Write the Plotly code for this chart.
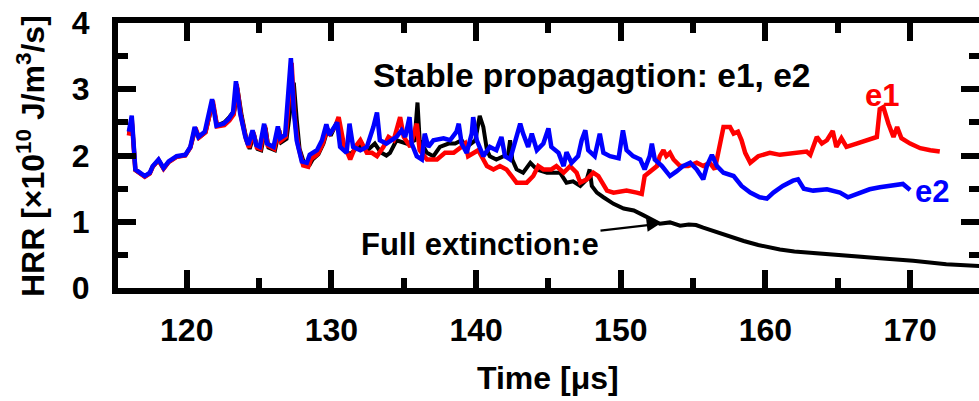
import plotly.graph_objects as go

# ---- data (Time in microseconds, HRR in 1e10 J/m^3/s) ----
e2_t = [116.0, 116.2, 116.45, 117.1, 117.45, 117.65, 118.05, 118.4, 118.75, 119.3, 119.9, 120.25,
        120.55, 120.8, 121.25, 121.75, 122.05, 122.55, 122.9, 123.2, 123.4, 123.7, 124.05, 124.25,
        124.55, 124.8, 125.05, 125.35, 125.55, 126.0, 126.3, 126.45, 126.8, 127.2, 127.4, 127.6,
        127.95, 128.3, 128.5, 129.0, 129.35, 129.65, 129.85, 130.15, 130.4, 130.6, 131.05, 131.25,
        131.5, 132.0, 132.45, 132.9, 133.15, 133.35, 133.8, 134.5, 134.85, 135.1, 135.4, 135.55,
        135.9, 136.25, 136.45, 136.7, 137.05, 137.75, 138.2, 138.65, 138.8, 139.0, 139.35, 139.7,
        139.8, 140.05, 140.5, 140.95, 141.4, 141.75, 142.0, 142.35, 142.7, 143.05, 143.25, 143.6,
        143.85, 144.2, 144.65, 145.0, 145.2, 145.7, 146.05, 146.25, 146.6, 147.05, 147.3, 147.55,
        147.75, 148.2, 148.55, 148.8, 149.25, 149.85, 150.15, 150.4, 150.85, 151.35, 151.65, 152.0,
        152.15, 152.35, 152.85, 153.4, 153.85, 154.3, 154.8, 155.25, 155.7, 155.95, 156.3, 156.65,
        157.1, 157.8, 158.35, 158.95, 159.6, 160.1, 160.55, 161.2, 161.9, 162.25, 162.65, 163.3,
        164.25, 165.15, 165.7, 166.3, 167.2, 167.9, 168.8, 169.5, 170.0]
e2_hrr = [2.36, 2.60, 1.79, 1.69, 1.74, 1.84, 1.94, 1.81, 1.91, 1.99, 2.01, 2.13,
          2.43, 2.28, 2.36, 2.85, 2.45, 2.48, 2.55, 2.65, 3.12, 2.63, 2.28, 2.16,
          2.38, 2.16, 2.13, 2.48, 2.18, 2.13, 2.44, 2.26, 2.31, 3.47, 2.68, 2.23,
          1.91, 1.89, 2.01, 2.08, 2.23, 2.47, 2.31, 2.41, 2.50, 2.13, 2.04, 2.48,
          2.13, 2.08, 2.13, 2.43, 2.65, 2.23, 2.18, 2.28, 2.38, 2.28, 2.58, 2.18,
          1.99, 1.94, 2.33, 2.13, 2.23, 2.26, 2.23, 2.36, 2.48, 2.18, 2.04, 2.33,
          2.58, 2.23, 1.99, 2.13, 2.08, 2.28, 1.99, 1.94, 2.23, 2.48, 2.33, 2.13,
          2.33, 2.08, 2.18, 2.41, 2.13, 2.04, 1.84, 2.05, 1.89, 1.99, 2.23, 2.38,
          2.08, 1.99, 2.33, 2.04, 1.99, 1.96, 2.38, 2.08, 1.99, 1.94, 1.79, 1.99,
          2.18, 1.94, 1.84, 1.69, 1.76, 1.84, 1.89, 1.79, 1.64, 1.84, 2.01, 1.84,
          1.74, 1.69, 1.54, 1.44, 1.37, 1.35, 1.44, 1.54, 1.62, 1.64, 1.50, 1.47,
          1.49, 1.44, 1.37, 1.42, 1.49, 1.52, 1.54, 1.57, 1.48]

e1_t = [116.0, 116.2, 116.45, 117.1, 117.45, 117.65, 118.05, 118.4, 118.75, 119.3, 119.9, 120.25,
        120.6, 120.85, 121.3, 121.8, 122.1, 122.6, 122.95, 123.25, 123.45, 123.75, 124.1, 124.3,
        124.6, 124.85, 125.1, 125.4, 125.6, 126.05, 126.35, 126.5, 126.85, 127.25, 127.45, 127.7,
        128.05, 128.4, 128.6, 129.05, 129.4, 129.7, 129.9, 130.25, 130.5, 130.85, 131.3, 131.65,
        132.0, 132.45, 132.8, 133.15, 133.6, 133.95, 134.3, 134.75, 135.0, 135.45, 135.9, 136.1,
        136.6, 137.3, 137.85, 138.45, 139.0, 139.25, 139.45, 139.8, 140.15, 140.5, 140.75, 141.2,
        141.65, 142.1, 142.45, 142.8, 143.5, 143.95, 144.3, 144.65, 145.2, 145.55, 146.05, 146.5,
        146.95, 147.2, 147.65, 148.1, 148.45, 149.05, 149.5, 150.4, 151.1, 151.45, 151.65, 152.0,
        152.5, 152.7, 152.95, 153.15, 153.4, 153.65, 154.1, 154.65, 155.25, 155.7, 156.15, 156.5,
        156.75, 157.1, 157.55, 157.8, 158.1, 158.35, 158.6, 158.95, 159.5, 160.3, 161.0, 161.9,
        162.85, 163.1, 163.55, 163.9, 164.25, 164.65, 164.9, 165.25, 165.6, 166.3, 167.1, 167.7,
        167.9, 168.15, 168.5, 168.85, 169.1, 169.4, 170.0, 170.7, 171.4, 172.05]
e1_hrr = [2.30, 2.55, 1.78, 1.68, 1.73, 1.83, 1.93, 1.80, 1.90, 1.98, 2.00, 2.12,
          2.42, 2.27, 2.35, 2.83, 2.44, 2.46, 2.53, 2.62, 3.08, 2.60, 2.25, 2.12,
          2.35, 2.12, 2.10, 2.45, 2.15, 2.10, 2.40, 2.22, 2.28, 3.40, 2.60, 2.15,
          1.85, 1.83, 1.95, 2.02, 2.18, 2.40, 2.33, 2.43, 2.58, 2.18, 1.94, 2.13,
          2.23, 2.04, 2.04, 1.99, 2.13, 2.28, 2.23, 2.58, 2.28, 2.13, 2.48, 2.08,
          1.94, 1.94, 2.04, 2.04, 2.13, 2.18, 1.99, 2.04, 2.08, 1.94, 1.84, 1.79,
          1.84, 1.79, 1.69, 1.59, 1.59, 1.69, 1.84, 1.79, 1.79, 1.84, 1.74, 1.84,
          1.74, 1.59, 1.64, 1.74, 1.69, 1.47, 1.44, 1.47, 1.44, 1.42, 1.69, 1.76,
          1.84, 1.99, 2.08, 1.99, 2.04, 1.94, 1.84, 1.84, 1.89, 1.84, 1.89, 1.79,
          2.04, 2.43, 2.43, 2.33, 2.36, 2.23, 2.04, 1.89, 1.99, 2.04, 2.01, 2.04,
          2.06, 2.01, 2.28, 2.18, 2.23, 2.37, 2.13, 2.26, 2.13, 2.18, 2.23, 2.28,
          2.70, 2.73, 2.48, 2.28, 2.43, 2.26, 2.18, 2.11, 2.08, 2.06]

e_t = [116.0, 116.2, 116.45, 117.1, 117.45, 117.65, 118.05, 118.4, 118.75, 119.3, 119.9, 120.25,
       120.6, 120.85, 121.3, 121.8, 122.1, 122.6, 122.95, 123.3, 123.5, 123.8, 124.15, 124.35,
       124.65, 124.9, 125.15, 125.45, 125.65, 126.1, 126.4, 126.55, 126.9, 127.4, 127.6, 127.8,
       128.15, 128.5, 128.7, 129.1, 129.45, 129.75, 129.95, 130.2, 130.45, 130.9, 131.3, 131.7,
       132.0, 132.5, 133.0, 133.4, 133.8, 134.05, 134.5, 135.2, 135.75, 135.95, 136.1, 136.6,
       137.05, 137.5, 138.1, 138.55, 139.0, 139.35, 139.95, 140.25, 140.5, 140.75, 140.95, 141.4,
       141.9, 142.2, 142.35, 142.5, 142.8, 143.25, 143.75, 144.2, 144.9, 145.8, 146.25, 146.7,
       147.2, 147.65, 147.85, 148.0, 148.35, 148.8, 149.5, 150.2, 150.9, 151.55, 152.25, 152.7,
       153.4, 154.1, 154.7, 155.2, 155.7, 156.5, 157.5, 158.5, 159.5, 160.3, 161.0, 162.0,
       163.3, 165.6, 167.9, 170.2, 172.5, 175.0]
e_hrr = [2.32, 2.55, 1.78, 1.68, 1.73, 1.83, 1.93, 1.80, 1.90, 1.98, 2.00, 2.12,
         2.40, 2.27, 2.35, 2.80, 2.45, 2.50, 2.58, 2.68, 3.02, 2.60, 2.22, 2.10,
         2.32, 2.10, 2.08, 2.42, 2.12, 2.08, 2.38, 2.20, 2.25, 3.10, 2.55, 2.10,
         1.86, 1.86, 1.94, 2.02, 2.18, 2.40, 2.30, 2.40, 2.53, 2.08, 2.02, 2.10,
         2.15, 2.08, 2.18, 2.05, 2.00, 2.04, 2.23, 2.18, 2.23, 2.80, 2.23, 2.04,
         1.99, 2.13, 2.18, 2.18, 2.23, 2.13, 2.23, 2.60, 2.43, 2.08, 1.99, 1.94,
         1.99, 1.99, 2.23, 1.94, 1.79, 1.74, 1.89, 1.79, 1.74, 1.74, 1.59, 1.61,
         1.54, 1.64, 1.79, 1.54, 1.44, 1.37, 1.27, 1.20, 1.17, 1.10, 1.02, 0.97,
         0.99, 0.94, 0.96, 0.95, 0.91, 0.85, 0.78, 0.71, 0.65, 0.61, 0.58, 0.55,
         0.53, 0.50, 0.45, 0.41, 0.36, 0.33]

x_ticks = [120, 130, 140, 150, 160, 170]
y_ticks = [0, 1, 2, 3, 4]

FONT = "Liberation Sans"
TICKFONT = dict(family=FONT, size=32, color="black")

fig = go.Figure()
fig.add_trace(go.Scatter(x=e_t, y=e_hrr, mode="lines", line=dict(color="black", width=4), name="e"))
fig.add_trace(go.Scatter(x=e1_t, y=e1_hrr, mode="lines", line=dict(color="#ff0000", width=4.5), name="e1"))
fig.add_trace(go.Scatter(x=e2_t, y=e2_hrr, mode="lines", line=dict(color="#0000ff", width=4.5),
                         name="e2", yaxis="y2"))

fig.update_layout(
    width=979, height=401,
    margin=dict(l=118, r=0, t=23, b=113),
    plot_bgcolor="white", paper_bgcolor="white",
    showlegend=False,
    xaxis=dict(range=[115.25, 174.76], tickmode="array", tickvals=x_ticks,
               ticktext=[f"<b>{v}</b>" for v in x_ticks],
               showline=True, linecolor="black", linewidth=6, mirror="ticks",
               ticks="inside", ticklen=18, tickwidth=6, tickcolor="black",
               minor=dict(dtick=5, tick0=115, ticks="inside", ticklen=10, tickwidth=6, tickcolor="black"),
               showgrid=False, zeroline=False, automargin=False, ticklabelstandoff=9,
               tickfont=TICKFONT),
    yaxis=dict(range=[0, 4], tickmode="array", tickvals=y_ticks,
               ticktext=[f"<b>{v}</b>" for v in y_ticks],
               showline=True, linecolor="black", linewidth=6, mirror=False,
               ticks="inside", ticklen=18, tickwidth=6, tickcolor="black",
               minor=dict(dtick=0.5, tick0=0, ticks="inside", ticklen=10, tickwidth=6, tickcolor="black"),
               showgrid=False, zeroline=False, automargin=False, ticklabelstandoff=16,
               tickfont=TICKFONT),
    yaxis2=dict(range=[0, 4], overlaying="y", side="right", matches="y",
                tickmode="array", tickvals=y_ticks, showticklabels=False,
                showline=False, ticks="inside", ticklen=18, tickwidth=6, tickcolor="black",
                minor=dict(dtick=0.5, tick0=0, ticks="inside", ticklen=10, tickwidth=6, tickcolor="black"),
                showgrid=False, zeroline=False, automargin=False),
)

# axis titles
fig.add_annotation(xref="paper", yref="paper", x=0.4994, y=-0.34, xanchor="center", yanchor="middle",
                   text="<b>Time [μs]</b>", showarrow=False, font=dict(family=FONT, size=32, color="black"))
fig.add_annotation(xref="paper", yref="paper", x=-0.101, y=0.498, xanchor="center", yanchor="middle",
                   textangle=-90, text="<b>HRR [×10<sup>10</sup> J/m<sup>3</sup>/s]</b>",
                   showarrow=False, font=dict(family=FONT, size=32, color="black"))

# in-plot labels
txt = dict(family=FONT, size=31)
fig.add_annotation(x=148.0, y=3.21, text="<b>Stable propagagtion: e1, e2</b>", showarrow=False,
                   font=dict(color="black", family=FONT, size=33.5))
fig.add_annotation(x=168.04, y=2.91, text="<b>e1</b>", showarrow=False, font=dict(color="#ff0000", **txt))
fig.add_annotation(x=171.5, y=1.45, text="<b>e2</b>", showarrow=False, font=dict(color="#0000ff", **txt))
fig.add_annotation(x=152.71, y=0.97, ax=-180, ay=21, text="<b>Full extinction:e</b>", showarrow=True,
                   arrowhead=2, arrowsize=1.2, arrowwidth=2.2, arrowcolor="black",
                   font=dict(color="black", **txt))

fig.write_html("out.html")
